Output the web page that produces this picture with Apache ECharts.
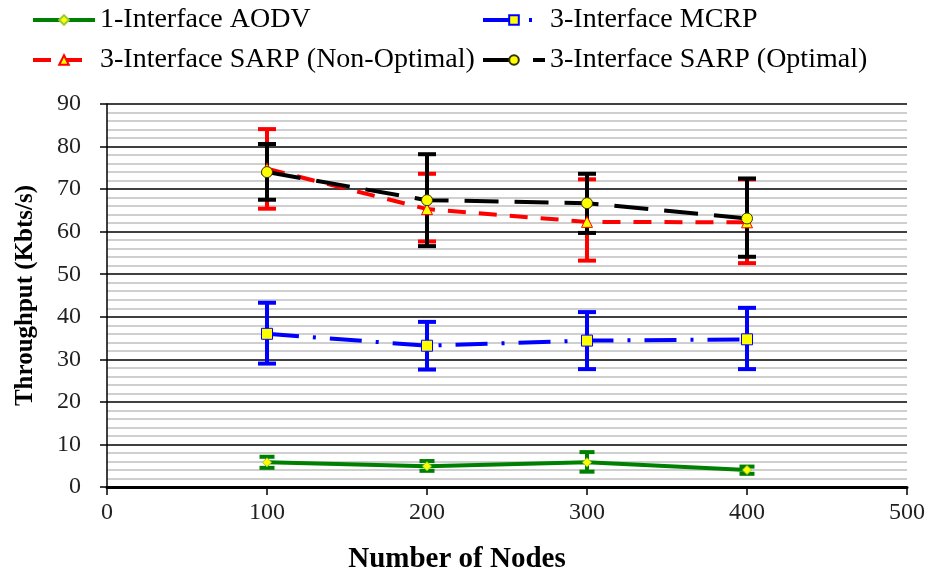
<!DOCTYPE html>
<html><head><meta charset="utf-8">
<script src="https://cdn.jsdelivr.net/npm/echarts@6/dist/echarts.min.js"></script>
<style>html,body{margin:0;padding:0;background:#fff}#c{width:930px;height:573px}</style>
</head><body><div id="c"></div>
<script>
var nodes = [100, 200, 300, 400];
var xTicks = [0, 100, 200, 300, 400, 500];
var yTicks = [0, 10, 20, 30, 40, 50, 60, 70, 80, 90];

var aodv = [5.8, 4.9, 5.8, 4.0];
var aodvLow = [4.5, 3.8, 3.6, 3.1];
var aodvHigh = [7.1, 6.1, 8.2, 4.8];

var mcrp = [36.0, 33.2, 34.4, 34.7];
var mcrpLow = [29.0, 27.6, 27.7, 27.7];
var mcrpHigh = [43.3, 38.8, 41.1, 42.1];

var sarpNon = [74.8, 65.3, 62.3, 62.2];
var sarpNonLow = [65.4, 57.7, 53.2, 52.6];
var sarpNonHigh = [84.1, 73.6, 72.3, 72.3];

var sarpOpt = [74.0, 67.4, 66.7, 63.1];
var sarpOptLow = [67.5, 56.6, 59.7, 54.1];
var sarpOptHigh = [80.6, 78.2, 73.6, 72.5];

var names = ['1-Interface AODV', '3-Interface MCRP', '3-Interface SARP (Non-Optimal)', '3-Interface SARP (Optimal)'];

function pairs(v) { return nodes.map(function (x, i) { return [x, v[i]]; }); }
function errData(lo, hi) { return nodes.map(function (x, i) { return [x, lo[i], hi[i]]; }); }

function errSeries(lo, hi, color, capW, z) {
  return {
    type: 'custom', coordinateSystem: 'cartesian2d', z: z, silent: true,
    data: errData(lo, hi),
    encode: { x: 0, y: [1, 2] },
    renderItem: function (params, api) {
      var x = api.value(0);
      var p1 = api.coord([x, api.value(1)]);
      var p2 = api.coord([x, api.value(2)]);
      var st = { stroke: color, lineWidth: 4 };
      return {
        type: 'group', children: [
          { type: 'line', shape: { x1: p1[0], y1: p1[1], x2: p2[0], y2: p2[1] }, style: st },
          { type: 'line', shape: { x1: p1[0] - capW / 2, y1: p1[1], x2: p1[0] + capW / 2, y2: p1[1] }, style: st },
          { type: 'line', shape: { x1: p2[0] - capW / 2, y1: p2[1], x2: p2[0] + capW / 2, y2: p2[1] }, style: st }
        ]
      };
    }
  };
}

var font = 'Liberation Serif';
var chart = echarts.init(document.getElementById('c'));
function legendAt(name, left, top) {
  return {
    data: [name], left: left, top: top, itemWidth: 62, itemHeight: 12, itemGap: 8,
    lineStyle: { width: 4 },
    textStyle: { fontFamily: font, fontSize: 28, color: '#000' }
  };
}
chart.setOption({
  animation: false,
  backgroundColor: '#fff',
  legend: [
    legendAt(names[0], 26, 1),
    legendAt(names[1], 476, 1),
    legendAt(names[2], 26, 41),
    legendAt(names[3], 476, 41)
  ],
  grid: { left: 107, right: 23, top: 104, bottom: 86, containLabel: false, outerBoundsMode: 'none' },
  xAxis: {
    type: 'value', min: 0, max: 500, interval: 100,
    name: 'Number of Nodes', nameLocation: 'middle', nameGap: 58,
    nameTextStyle: { fontFamily: font, fontSize: 29, fontWeight: 'bold', color: '#000', padding: [0, 100, 0, 0] },
    axisLine: { lineStyle: { color: '#000', width: 3 } },
    axisTick: { length: 8, lineStyle: { color: '#000', width: 1.5 } },
    axisLabel: { fontFamily: font, fontSize: 24, color: '#222', margin: 14,
      formatter: function (v) { return xTicks.indexOf(v) >= 0 ? String(v) : ''; } },
    splitLine: { show: false }
  },
  yAxis: {
    type: 'value', min: 0, max: 90, interval: 10,
    name: 'Throughput (Kbts/s)', nameLocation: 'middle', nameGap: 69,
    nameTextStyle: { fontFamily: font, fontSize: 25, fontWeight: 'bold', color: '#000' },
    axisLine: { show: true, lineStyle: { color: '#000', width: 1.5 } },
    axisTick: { show: true, length: 7, lineStyle: { color: '#000', width: 1.5 } },
    axisLabel: { fontFamily: font, fontSize: 24, color: '#222', margin: 26,
      formatter: function (v) { return yTicks.indexOf(v) >= 0 ? String(v) : ''; } },
    splitLine: { show: true, lineStyle: { color: '#000', width: 1.5 } },
    minorTick: { show: false, splitNumber: 5 },
    minorSplitLine: { show: true, lineStyle: { color: '#c0c0c0', width: 1.5 } }
  },
  series: [
    errSeries(sarpNonLow, sarpNonHigh, '#ff0000', 18, 2),
    errSeries(sarpOptLow, sarpOptHigh, '#000000', 18, 3),
    errSeries(mcrpLow, mcrpHigh, '#0000ff', 18, 3),
    errSeries(aodvLow, aodvHigh, '#008000', 15, 3),
    { name: names[0], type: 'line', data: pairs(aodv), z: 5,
      symbol: 'diamond', symbolSize: 9,
      lineStyle: { color: '#008000', width: 4 },
      itemStyle: { color: '#ffff00', borderColor: '#9acd32', borderWidth: 1 } },
    { name: names[1], type: 'line', data: pairs(mcrp), z: 5,
      symbol: 'rect', symbolSize: 11,
      lineStyle: { color: '#0000ff', width: 4, type: [32, 14, 3, 14] },
      itemStyle: { color: '#ffff00', borderColor: '#0000ff', borderWidth: 1 } },
    { name: names[2], type: 'line', data: pairs(sarpNon), z: 5,
      symbol: 'triangle', symbolSize: 11,
      lineStyle: { color: '#ff0000', width: 4, type: [18, 13] },
      itemStyle: { color: '#ffff00', borderColor: '#ff0000', borderWidth: 1 } },
    { name: names[3], type: 'line', data: pairs(sarpOpt), z: 6,
      symbol: 'circle', symbolSize: 11,
      lineStyle: { color: '#000000', width: 4, type: [34, 16] },
      itemStyle: { color: '#ffff00', borderColor: '#333300', borderWidth: 1 } }
  ]
});
</script></body></html>
